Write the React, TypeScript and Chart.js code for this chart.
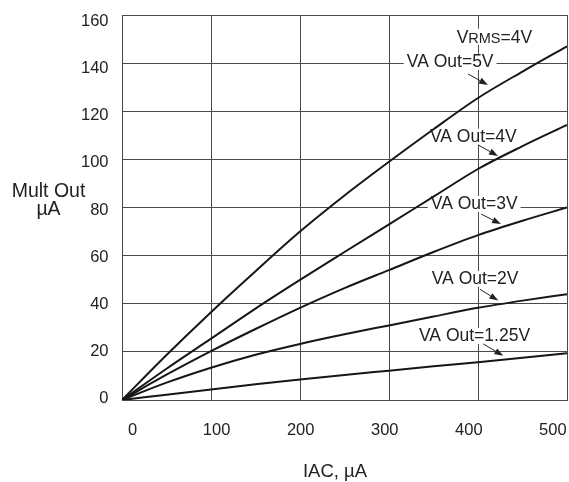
import { useEffect, useRef } from "react";
import { Chart, registerables } from "chart.js";

Chart.register(...registerables);

const FONT = "'Liberation Sans', Arial, Helvetica, sans-serif";
const TEXT = "#222";
const GRID = "#4a4a4a";
const CURVE = "#161616";

// IAC (µA)
const iacValues = [0, 50, 100, 150, 200, 250, 300, 350, 400, 450, 500];
// Mult Out (µA) per VA Out
const vaOut5 = [0, 18.7, 36.5, 53.5, 70, 85, 99, 112.5, 125.5, 136.5, 147];
const vaOut4 = [0, 13, 25.5, 38, 49.9, 61.5, 73, 84.5, 96, 105.5, 114.3];
const vaOut3 = [0, 10.5, 20.3, 29.5, 38.3, 46.5, 54, 61.5, 68.5, 74.5, 80];
const vaOut2 = [0, 7.2, 13.4, 18.8, 23.3, 27.3, 31, 34.7, 38.3, 41.3, 44];
const vaOut125 = [0, 2.2, 4.4, 6.5, 8.5, 10.4, 12.2, 14, 15.7, 17.6, 19.4];

const seriesNames = ["VA Out=5V", "VA Out=4V", "VA Out=3V", "VA Out=2V", "VA Out=1.25V"];
const seriesValues = [vaOut5, vaOut4, vaOut3, vaOut2, vaOut125];

const xTicks = [0, 100, 200, 300, 400, 500];
const yTicks = [0, 20, 40, 60, 80, 100, 120, 140, 160];

// label anchors in data units: text left/center-y, arrow from -> to
const curveLabels = [
  { text: "VA Out=5V", x: 320, y: 140.5, from: [388.8, 135.5], to: [411.2, 130.9] },
  { text: "VA Out=4V", x: 346, y: 109.4, from: [400, 106], to: [422.5, 101.4] },
  { text: "VA Out=3V", x: 347, y: 81.5, from: [403.4, 77.3], to: [425.8, 73.1] },
  { text: "VA Out=2V", x: 348, y: 50.3, from: [402.2, 46], to: [422.8, 41.3] },
  { text: "VA Out=1.25V", x: 333.7, y: 26.6, from: [406, 23.3], to: [428.4, 18.4] },
];
const vrmsLabel = { x: 376, y: 151 };

const LABEL_SIZE = 17.5;

const zeroPad = (s: any) => {
  s.paddingTop = 0;
  s.paddingBottom = 0;
  s.paddingLeft = 0;
  s.paddingRight = 0;
};

export default function App() {
  const ref = useRef<HTMLCanvasElement>(null);

  useEffect(() => {
    const canvas = ref.current;
    if (!canvas) return;

    const labelBox = (chart: any, a: any) => {
      const ctx = chart.ctx;
      ctx.font = `${LABEL_SIZE}px ${FONT}`;
      const w = ctx.measureText(a.text).width;
      const px = chart.scales.x.getPixelForValue(a.x);
      const py = chart.scales.y.getPixelForValue(a.y);
      return { px, py, w };
    };

    const drawArrow = (ctx: CanvasRenderingContext2D, x1: number, y1: number, x2: number, y2: number) => {
      const ang = Math.atan2(y2 - y1, x2 - x1);
      const hl = 9;
      const hw = 3.2;
      const bx = x2 - hl * Math.cos(ang);
      const by = y2 - hl * Math.sin(ang);
      ctx.beginPath();
      ctx.moveTo(x1, y1);
      ctx.lineTo(bx, by);
      ctx.stroke();
      ctx.beginPath();
      ctx.moveTo(x2, y2);
      ctx.lineTo(bx + hw * Math.sin(ang), by - hw * Math.cos(ang));
      ctx.lineTo(bx - hw * Math.sin(ang), by + hw * Math.cos(ang));
      ctx.closePath();
      ctx.fill();
    };

    const annotate = {
      id: "annotate",
      beforeDatasetsDraw(chart: any) {
        const ctx = chart.ctx as CanvasRenderingContext2D;
        ctx.save();
        ctx.fillStyle = "#fff";
        for (const a of curveLabels) {
          const b = labelBox(chart, a);
          ctx.fillRect(b.px - 3, b.py - 8, b.w + 6, 16);
        }
        const vx = chart.scales.x.getPixelForValue(vrmsLabel.x);
        const vy = chart.scales.y.getPixelForValue(vrmsLabel.y);
        ctx.fillRect(vx - 3, vy - 8, 82, 16);
        ctx.restore();
      },
      afterDatasetsDraw(chart: any) {
        const ctx = chart.ctx as CanvasRenderingContext2D;
        ctx.save();
        ctx.fillStyle = TEXT;
        ctx.strokeStyle = TEXT;
        ctx.lineWidth = 1;
        ctx.textBaseline = "middle";
        ctx.textAlign = "left";
        for (const a of curveLabels) {
          const b = labelBox(chart, a);
          ctx.font = `${LABEL_SIZE}px ${FONT}`;
          ctx.fillText(a.text, b.px, b.py + 0.5);
          const x1 = chart.scales.x.getPixelForValue(a.from[0]);
          const y1 = chart.scales.y.getPixelForValue(a.from[1]);
          const x2 = chart.scales.x.getPixelForValue(a.to[0]);
          const y2 = chart.scales.y.getPixelForValue(a.to[1]);
          drawArrow(ctx, x1, y1, x2, y2);
        }
        // VRMS=4V
        const vx = chart.scales.x.getPixelForValue(vrmsLabel.x);
        const vy = chart.scales.y.getPixelForValue(vrmsLabel.y);
        ctx.textBaseline = "alphabetic";
        const base = vy + 6;
        ctx.font = `${LABEL_SIZE}px ${FONT}`;
        ctx.fillText("V", vx, base);
        let cx = vx + ctx.measureText("V").width;
        ctx.font = `${LABEL_SIZE - 3}px ${FONT}`;
        ctx.fillText("RMS", cx, base);
        cx += ctx.measureText("RMS").width;
        ctx.font = `${LABEL_SIZE}px ${FONT}`;
        ctx.fillText("=4V", cx, base);

        // axis titles
        ctx.textAlign = "center";
        ctx.font = `19.5px ${FONT}`;
        ctx.fillText("Mult Out", 48.5, 196.5);
        ctx.fillText("µA", 48.5, 215);
        ctx.font = `18.5px ${FONT}`;
        ctx.fillText("IAC, µA", 335, 476.5);
        ctx.restore();
      },
    };

    const chart = new Chart(canvas, {
      type: "line",
      data: {
        labels: iacValues,
        datasets: seriesValues.map((vals, i) => ({
          label: seriesNames[i],
          data: vals.map((v, j) => ({ x: iacValues[j], y: v })),
          borderColor: CURVE,
          borderWidth: 2,
          pointRadius: 0,
          fill: false,
          cubicInterpolationMode: "monotone" as const,
          xAxisID: "x",
          yAxisID: "y",
        })),
      },
      options: {
        animation: false,
        responsive: true,
        maintainAspectRatio: false,
        layout: { padding: { top: 15, right: 2, left: 0, bottom: 0 } },
        plugins: {
          legend: { display: false },
          tooltip: { enabled: false },
          title: { display: false },
        },
        scales: {
          x: {
            type: "linear",
            position: "bottom",
            weight: 0,
            min: 0,
            max: 500,
            ticks: { display: false, stepSize: 100 },
            grid: { color: GRID, lineWidth: 1, drawTicks: false },
            border: { display: true, color: GRID, width: 1 },
            afterFit: (s: any) => {
              s.height = 0;
              zeroPad(s);
            },
          },
          xl: {
            type: "linear",
            position: "bottom",
            weight: 1,
            min: -12.55,
            max: 516.8,
            grid: { display: false, drawTicks: false },
            border: { display: false },
            ticks: {
              padding: 21,
              color: TEXT,
              font: { size: 16.5, family: FONT },
              maxRotation: 0,
              autoSkip: false,
            },
            afterBuildTicks: (s: any) => {
              s.ticks = xTicks.map((v) => ({ value: v }));
            },
            afterFit: (s: any) => {
              s.height = 82;
              zeroPad(s);
            },
          },
          y: {
            type: "linear",
            position: "left",
            weight: 0,
            min: 0,
            max: 160,
            ticks: { display: false, stepSize: 20 },
            grid: { color: GRID, lineWidth: 1, drawTicks: false },
            border: { display: true, color: GRID, width: 1 },
            afterFit: (s: any) => {
              s.width = 0;
              zeroPad(s);
            },
          },
          yl: {
            type: "linear",
            position: "left",
            weight: 1,
            min: -0.55,
            max: 162.66,
            grid: { display: false, drawTicks: false },
            border: { display: false },
            ticks: {
              padding: 13.5,
              color: TEXT,
              font: { size: 16.5, family: FONT },
              autoSkip: false,
            },
            afterBuildTicks: (s: any) => {
              s.ticks = yTicks.map((v) => ({ value: v }));
            },
            afterFit: (s: any) => {
              s.width = 122;
              zeroPad(s);
            },
          },
        },
      },
      plugins: [annotate],
    });

    return () => chart.destroy();
  }, []);

  return (
    <div style={{ position: "fixed", left: 0, top: 0, width: 569, height: 482, background: "#fff" }}>
      <canvas ref={ref} />
    </div>
  );
}
